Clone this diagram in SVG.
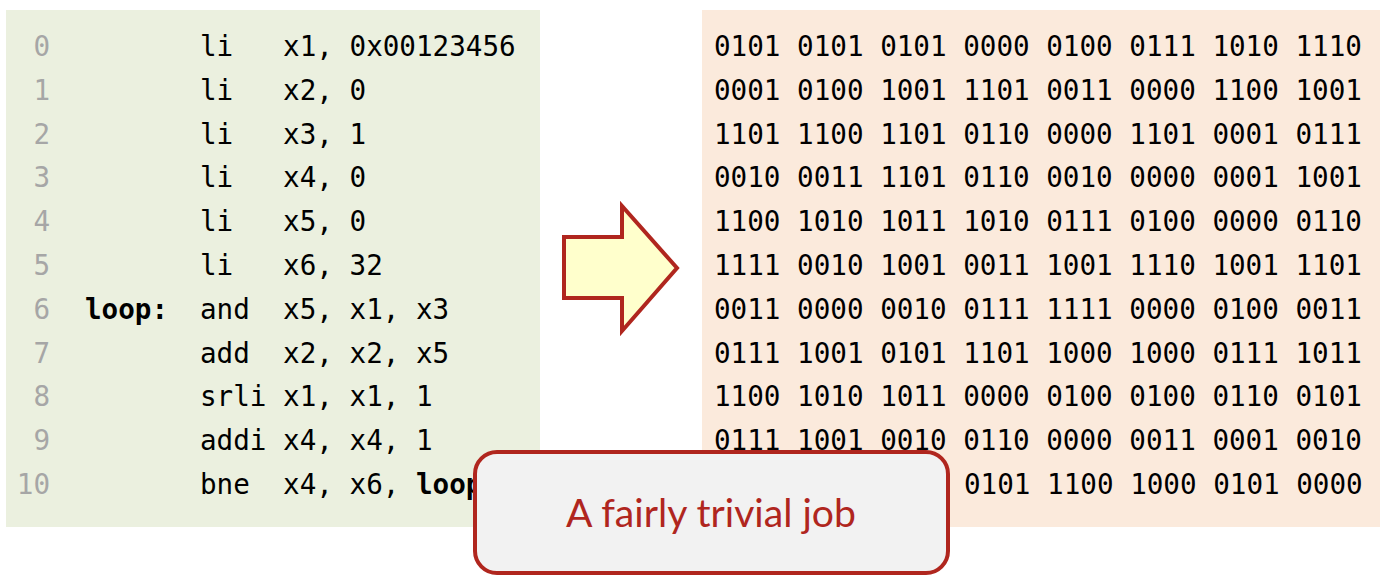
<svg xmlns="http://www.w3.org/2000/svg" width="1380" height="586" viewBox="0 0 1380 586">
<style>
.mono{font-family:"DejaVu Sans Mono","Liberation Mono",monospace;font-size:27.6px;fill:#000;}
.num{fill:#A6A6A6;text-anchor:end;}
.b{font-weight:bold;}
.call{font-family:Lato,"Open Sans","Liberation Sans",sans-serif;font-size:38px;fill:#B0261E;text-anchor:middle;}
</style>
<rect width="1380" height="586" fill="#FFFFFF"/>
<g id="code-panel">
<rect x="6" y="10" width="534" height="517" fill="#EBF0DF"/>
<g class="mono num">
<text x="50" y="56">0</text>
<text x="50" y="99.8">1</text>
<text x="50" y="143.6">2</text>
<text x="50" y="187.4">3</text>
<text x="50" y="231.2">4</text>
<text x="50" y="275">5</text>
<text x="50" y="318.8">6</text>
<text x="50" y="362.6">7</text>
<text x="50" y="406.4">8</text>
<text x="50" y="450.2">9</text>
<text x="50" y="494">10</text>
</g>
<text class="mono b" x="85" y="318.8">loop:</text>
<g class="mono">
<text x="200" y="56">li&#160;&#160; x1, 0x00123456</text>
<text x="200" y="99.8">li&#160;&#160; x2, 0</text>
<text x="200" y="143.6">li&#160;&#160; x3, 1</text>
<text x="200" y="187.4">li&#160;&#160; x4, 0</text>
<text x="200" y="231.2">li&#160;&#160; x5, 0</text>
<text x="200" y="275">li&#160;&#160; x6, 32</text>
<text x="200" y="318.8">and&#160; x5, x1, x3</text>
<text x="200" y="362.6">add&#160; x2, x2, x5</text>
<text x="200" y="406.4">srli x1, x1, 1</text>
<text x="200" y="450.2">addi x4, x4, 1</text>
<text x="200" y="494">bne&#160; x4, x6, <tspan class="b">loop</tspan></text>
</g>
</g>
<g id="binary-panel">
<rect x="702" y="10" width="678" height="517" fill="#FBEADC"/>
<g class="mono">
<text x="714" y="56">0101 0101 0101 0000 0100 0111 1010 1110</text>
<text x="714" y="99.8">0001 0100 1001 1101 0011 0000 1100 1001</text>
<text x="714" y="143.6">1101 1100 1101 0110 0000 1101 0001 0111</text>
<text x="714" y="187.4">0010 0011 1101 0110 0010 0000 0001 1001</text>
<text x="714" y="231.2">1100 1010 1011 1010 0111 0100 0000 0110</text>
<text x="714" y="275">1111 0010 1001 0011 1001 1110 1001 1101</text>
<text x="714" y="318.8">0011 0000 0010 0111 1111 0000 0100 0011</text>
<text x="714" y="362.6">0111 1001 0101 1101 1000 1000 0111 1011</text>
<text x="714" y="406.4">1100 1010 1011 0000 0100 0100 0110 0101</text>
<text x="714" y="450.2">0111 1001 0010 0110 0000 0011 0001 0010</text>
<text x="964" y="494">0101 1100 1000 0101 0000</text>
</g>
</g>
<g id="connectors">
<polygon points="564,237 622,237 622,206 677,268 622,331 622,298 564,298" fill="#FFFFCC" stroke="#B0261E" stroke-width="4" stroke-linejoin="miter"/>
</g>
<g id="callout">
<rect x="475" y="452" width="473" height="121" rx="22" ry="22" fill="#F2F2F2" stroke="#B0261E" stroke-width="4"/>
<text class="call" x="711" y="527" textLength="290" lengthAdjust="spacingAndGlyphs">A fairly trivial job</text>
</g>
</svg>
